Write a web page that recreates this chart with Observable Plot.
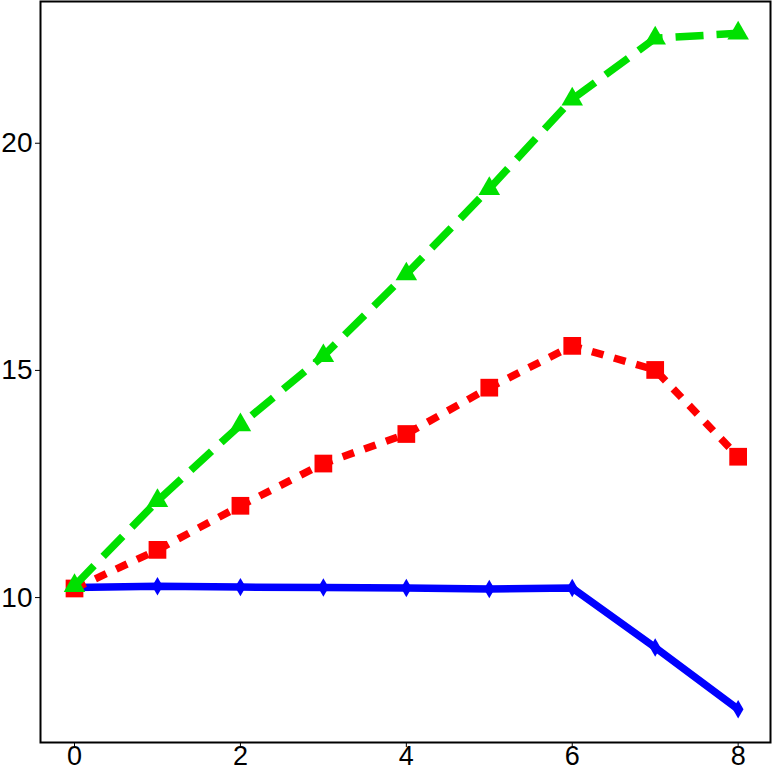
<!DOCTYPE html>
<html>
<head>
<meta charset="utf-8">
<script src="https://cdn.jsdelivr.net/npm/d3@7"></script>
<script src="https://cdn.jsdelivr.net/npm/@observablehq/plot@0.6"></script>
<style>
  html, body { margin: 0; padding: 0; background: #fff; }
  #chart { width: 772px; height: 772px; overflow: hidden; }
</style>
</head>
<body>
<div id="chart"></div>
<script>
const xValues = [0, 1, 2, 3, 4, 5, 6, 7, 8];
const blueValues  = [10.22, 10.25, 10.23, 10.22, 10.21, 10.19, 10.21, 8.90, 7.54];
const redValues   = [10.20, 11.05, 12.02, 12.95, 13.60, 14.62, 15.54, 15.01, 13.10];
const greenValues = [10.26, 12.13, 13.80, 15.32, 17.12, 19.00, 20.97, 22.31, 22.42];
const xTicks = [0, 2, 4, 6, 8];
const yTicks = [10, 15, 20];

const toRows = (vals) => xValues.map((x, i) => ({x, y: vals[i]}));
const blue = toRows(blueValues);
const red = toRows(redValues);
const green = toRows(greenValues);

const chart = Plot.plot({
  width: 772,
  height: 772,
  marginLeft: 40,
  marginRight: 2,
  marginTop: 1,
  marginBottom: 30,
  style: {fontFamily: "'Liberation Sans', Arial, sans-serif", fontSize: "27px", background: "white", color: "black"},
  x: {domain: [-0.41, 8.39]},
  y: {domain: [6.81, 23.12]},
  marks: [
    Plot.axisX({ticks: xTicks, tickSize: 5, tickPadding: -2, label: null, fontSize: 27}),
    Plot.axisY({ticks: yTicks, tickSize: 5, tickPadding: 3, label: null, fontSize: 28}),
    Plot.line(blue, {x: "x", y: "y", stroke: "#0000ff", strokeWidth: 7.5, strokeLinecap: "butt", strokeLinejoin: "round"}),
    Plot.dot(blue, {x: "x", y: "y", symbol: "diamond", r: 5.6, fill: "#0000ff", stroke: "none"}),
    Plot.line(red, {x: "x", y: "y", stroke: "#ff0000", strokeWidth: 7.5, strokeDasharray: "12,11", strokeLinecap: "butt", strokeLinejoin: "round"}),
    Plot.dot(red, {x: "x", y: "y", symbol: "square", r: 10, fill: "#ff0000", stroke: "none"}),
    Plot.line(green, {x: "x", y: "y", stroke: "#00e000", strokeWidth: 7.5, strokeDasharray: "28,13", strokeLinecap: "butt", strokeLinejoin: "round"}),
    Plot.dot(green, {x: "x", y: "y", symbol: "triangle", r: 8, fill: "#00e000", stroke: "none"}),
    Plot.frame({stroke: "black", strokeWidth: 2})
  ]
});
document.getElementById("chart").appendChild(chart);
</script>
</body>
</html>
